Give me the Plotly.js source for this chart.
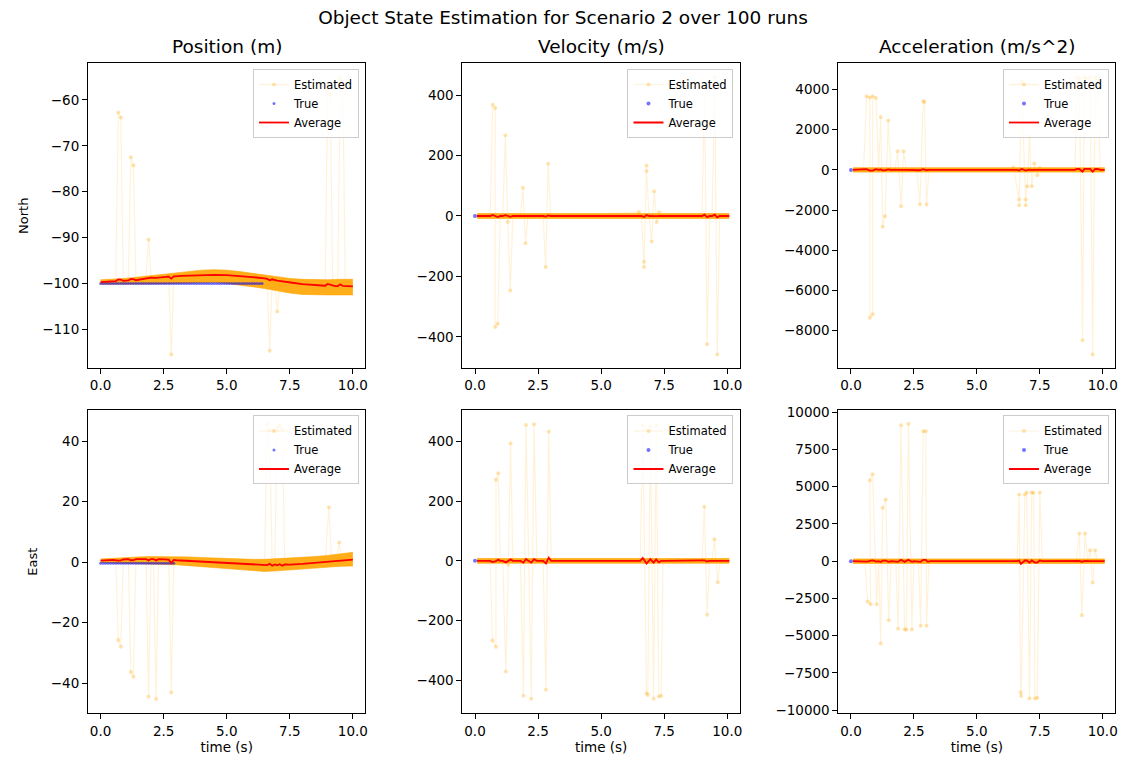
<!DOCTYPE html>
<html><head><meta charset="utf-8">
<script src="https://cdn.plot.ly/plotly-3.0.1.min.js"></script>
<style>html,body{margin:0;padding:0;background:#fff;}#chart{width:1126px;height:760px;}</style>
</head><body><div id="chart"></div>
<script>
// ---------------- DATA ----------------
const suptitle = 'Object State Estimation for Scenario 2 over 100 runs';
const colTitles = ['Position (m)', 'Velocity (m/s)', 'Acceleration (m/s^2)'];
const rowLabels = ['North', 'East'];
const xLabel = 'time (s)';
const seriesNames = ['Estimated', 'True', 'Average'];

const xTickVals = [0, 2.5, 5, 7.5, 10];
const xTickText = ['0.0', '2.5', '5.0', '7.5', '10.0'];

// North position
const spkNP_t = [0.6,0.7,0.8,0.9,1.1,1.2,1.3,1.4,1.8,1.9,2.0,2.7,2.8,2.9,6.6,6.7,6.8,6.9,7.0,7.1,8.9,9.0,9.1,9.2,9.4,9.5,9.6,9.7];
const spkNP   = [-99.4,-62.7,-63.8,-99.2,-99.1,-72.5,-74.2,-99.0,-98.8,-90.4,-98.7,-98.4,-115.5,-98.4,-99.0,-114.7,-99.6,-99.8,-106.1,-100.3,-100.5,-57.7,-58.8,-100.6,-100.6,-55.3,-56.5,-100.5];
const bandPos_t = [0,0.5,1,1.5,2,2.5,3,3.5,4,4.5,5,5.5,6,6.5,7,7.5,8,8.5,9,9.5,10];
const bandNP_hi = [-99.2,-99.1,-98.9,-98.6,-98.3,-97.9,-97.6,-97.3,-97.1,-97.0,-97.1,-97.4,-97.8,-98.1,-98.5,-98.9,-99.1,-99.2,-99.2,-99.1,-99.1];
const bandNP_lo = [-100.2,-100.2,-100.1,-100.1,-100.1,-100.1,-100.0,-99.9,-99.8,-99.8,-100.0,-100.3,-100.7,-101.1,-101.6,-102.1,-102.4,-102.5,-102.5,-102.5,-102.5];
const trueNP_t = [0,0.1,0.2,0.3,0.4,0.5,0.6,0.7,0.8,0.9,1,1.1,1.2,1.3,1.4,1.5,1.6,1.7,1.8,1.9,2,2.1,2.2,2.3,2.4,2.5,2.6,2.7,2.8,2.9,3,3.1,3.2,3.3,3.4,3.5,3.6,3.7,3.8,3.9,4,4.1,4.2,4.3,4.4,4.5,4.6,4.7,4.8,4.9,5,5.1,5.2,5.3,5.4,5.5,5.6,5.7,5.8,5.9,6,6.1,6.2,6.3,6.4];
const trueNP = [-100,-100,-100,-100,-100,-100,-100,-100,-100,-100,-100,-100,-100,
  -100,-100,-100,-100,-100,-100,-100,-100,-100,-100,-100,-100,-100,
  -100,-100,-100,-100,-100,-100,-100,-100,-100,-100,-100,-100,-100,
  -100,-100,-100,-100,-100,-100,-100,-100,-100,-100,-100,-100,-100,
  -100,-100,-100,-100,-100,-100,-100,-100,-100,-100,-100,-100,-100];
const avgNP_t = [0,0.3,0.6,0.7,0.8,0.9,1.1,1.2,1.3,1.4,1.6,1.9,2.0,2.2,2.7,2.8,2.9,3.2,3.6,4.0,4.5,5.0,5.5,6.0,6.5,6.6,6.7,6.8,7.0,7.2,7.6,8.0,8.5,8.9,9.0,9.1,9.2,9.3,9.4,9.5,9.6,9.8,10.0];
const avgNP   = [-99.7,-99.6,-99.5,-99.1,-99.15,-99.45,-99.35,-99.0,-99.05,-99.3,-99.15,-98.85,-98.75,-98.8,-98.5,-98.95,-98.45,-98.35,-98.25,-98.2,-98.15,-98.2,-98.35,-98.6,-98.9,-99.0,-99.3,-99.1,-99.4,-99.5,-99.85,-100.15,-100.4,-100.5,-100.1,-100.25,-100.55,-100.6,-100.6,-100.2,-100.55,-100.6,-100.65];

// North velocity
const spkNV_t = [0.6,0.7,0.8,0.8,0.9,1.0,1.1,1.2,1.3,1.4,1.5,1.8,1.9,2.0,2.1,2.7,2.8,2.9,3.0,6.5,6.6,6.7,6.7,6.8,6.8,6.9,7.0,7.1,7.2,7.3,7.4,9.0,9.1,9.2,9.3,9.4,9.5,9.6,9.7];
const spkNV   = [0,368,357,-367,-356,0,0,267,-20,-246,0,0,93,-90,0,0,-169,173,0,13,0,-151,-169,167,149,0,-84,82,-20,12,0,0,430,-424,0,0,459,-458,0];
const bandVA_t = [0.08,2.5,5,7.5,10.08];
const bandNV_hi = [8,8,8,8,8];
const bandNV_lo = [-8,-8,-8,-8,-8];
const trueNV_t = [0];
const trueNV = [0];
const avgNV_t = [0.08,0.6,0.7,0.8,0.9,1.0,1.1,1.2,1.3,1.4,1.5,1.8,1.9,2.0,2.1,2.7,2.8,2.9,3.0,6.5,6.6,6.7,6.8,6.9,7.0,7.1,7.2,7.3,9.0,9.1,9.2,9.3,9.4,9.5,9.6,9.7,10.08];
const avgNV   = [0,0,3.7,-0.1,-3.6,0,0,2.7,-0.2,-2.5,0,0,0.9,-0.9,0,0,-1.7,1.7,0,0.1,0,-3.2,3.2,0,-0.8,0.8,-0.2,0.1,0,4.3,-4.2,0,0,4.6,-4.6,0,0];

// North acceleration
const spkNA_t = [0.5,0.62,0.75,0.75,0.86,0.86,0.99,1.1,1.18,1.26,1.35,1.48,1.58,1.75,1.85,1.99,2.09,2.2,2.62,2.74,2.87,2.92,3.0,3.1,6.4,6.45,6.68,6.68,6.78,6.94,6.94,7.0,7.09,7.18,7.28,7.4,7.5,7.6,8.9,8.97,9.07,9.2,9.27,9.37,9.5,9.6,9.7,9.8,9.9];
const spkNA   = [0,3660,3600,-7360,-7175,3660,3580,0,2635,-2834,-2303,2452,0,0,928,-1806,928,0,0,-1707,3430,3380,-1723,0,0,116,-1475,-1757,4400,-1757,-1475,-812,1657,-812,315,-265,99,0,0,4600,4550,-8470,4600,4550,4600,-9180,4600,4550,0];
const bandNA_hi = [110,110,110,110,110];
const bandNA_lo = [-110,-110,-110,-110,-110];
const trueNA_t = [0];
const trueNA = [0];
const avgNA_t = [0.08,0.62,0.75,0.86,0.99,1.1,1.18,1.26,1.35,1.48,1.58,1.85,1.99,2.09,2.2,2.74,2.87,3.0,3.1,6.6,6.68,6.78,6.94,7.0,7.09,7.18,7.3,8.9,8.97,9.07,9.2,9.27,9.37,9.5,9.6,9.7,9.8,9.9,10.08];
const avgNA   = [0,37,-38,-35,36,0,26,-28,-23,25,0,9,-18,9,0,-17,34,-17,0,0,-32,44,-32,-8,17,-8,0,0,46,45,-85,46,45,46,-92,46,45,0,0];

// East position
const spkEP_t = [0.6,0.7,0.8,0.9,1.1,1.2,1.3,1.4,1.8,1.9,2.0,2.1,2.2,2.3,2.7,2.8,2.9,6.5,6.6,6.7,6.8,6.9,7.0,7.1,7.2,7.3,8.9,9.05,9.15,9.35,9.46,9.56];
const spkEP   = [0.6,-25.8,-28.0,0.8,0.9,-36.3,-37.9,0.9,1.0,-44.5,1.0,1.0,-45.3,0.9,0.7,-43.1,0.5,-1.0,45.6,43.6,-1.2,-1.0,44.5,45.2,44.0,-0.9,0.0,18.1,0.4,0.5,6.5,0.6];
const bandEP_hi = [1.0,1.3,1.5,1.7,1.8,1.8,1.8,1.7,1.5,1.3,1.1,1.0,0.9,0.9,1.1,1.3,1.5,1.8,2.2,2.7,3.2];
const bandEP_lo = [-0.2,-0.3,-0.4,-0.6,-0.7,-0.8,-0.9,-1.2,-1.5,-1.9,-2.2,-2.6,-2.9,-3.1,-2.9,-2.6,-2.2,-1.9,-1.6,-1.4,-1.3];
const trueEP_t = [0,0.1,0.2,0.3,0.4,0.5,0.6,0.7,0.8,0.9,1,1.1,1.2,1.3,1.4,1.5,1.6,1.7,1.8,1.9,2,2.1,2.2,2.3,2.4,2.5,2.6,2.7,2.8,2.9];
const trueEP = [-0.4,-0.4,-0.4,-0.4,-0.4,-0.4,-0.4,-0.4,-0.4,-0.4,-0.4,-0.4,-0.4,-0.4,-0.4,-0.4,-0.4,-0.4,-0.4,-0.4,-0.4,-0.4,-0.4,-0.4,-0.4,-0.4,-0.4,-0.4,-0.4,-0.4];
const avgEP_t = [0,0.5,0.7,0.8,0.9,1.1,1.2,1.3,1.4,1.8,1.9,2.0,2.1,2.2,2.3,2.7,2.8,2.9,3.0,3.5,4.0,4.5,5.0,5.5,6.0,6.5,6.6,6.7,6.8,6.9,7.0,7.1,7.2,7.3,7.4,7.5,8.0,8.5,9.0,9.5,10.0];
const avgEP   = [0.5,0.7,0.5,0.55,0.85,0.95,0.6,0.65,0.95,1.0,0.55,1.0,1.0,0.55,0.95,0.8,-0.3,0.7,0.6,0.35,0.1,-0.15,-0.4,-0.65,-0.9,-1.1,-1.0,-0.6,-1.2,-0.8,-1.1,-0.7,-1.2,-0.8,-0.9,-0.85,-0.6,-0.25,0.1,0.45,0.8];

// East velocity
const spkEV_t = [0.6,0.69,0.83,0.83,0.92,1.0,1.1,1.22,1.32,1.41,1.5,1.8,1.92,2.02,2.13,2.23,2.34,2.45,2.7,2.81,2.92,3.02,6.55,6.65,6.8,6.85,6.95,7.08,7.18,7.29,7.38,7.45,9.0,9.09,9.2,9.3,9.4,9.49,9.62,9.72];
const spkEV   = [0,-267,-288,272,294,0,0,-371,-13,395,0,0,-453,456,0,-463,459,0,0,-433,434,0,0,455,-444,-450,452,-463,455,-455,-453,0,0,182,-181,0,0,73,-72,0];
const bandEV_hi = [8,8,8,8,8];
const bandEV_lo = [-8,-8,-8,-8,-8];
const trueEV_t = [0];
const trueEV = [0];
const avgEV_t = [0.08,0.6,0.69,0.83,0.92,1.0,1.1,1.22,1.32,1.41,1.5,1.8,1.92,2.02,2.12,2.23,2.34,2.45,2.7,2.81,2.92,3.02,6.55,6.65,6.8,6.95,7.08,7.18,7.29,7.38,7.5,9.0,9.09,9.2,9.3,10.08];
const avgEV   = [0,0,-4,-1,4,0,0,-5,0,5,0,0,-6,6,0,-6,6,0,0,-9,11,0,0,10,-9,6,-6,5,-5,0,0,0,2,-2,0,0];

// East acceleration
const spkEA_t = [0.55,0.66,0.78,0.75,0.86,1.02,1.1,1.18,1.26,1.38,1.5,1.6,1.78,1.87,1.99,2.13,2.2,2.28,2.42,2.5,2.68,2.77,2.87,2.97,3.0,3.1,6.6,6.68,6.74,6.76,6.91,6.98,7.09,7.18,7.25,7.31,7.4,7.5,7.6,8.95,9.07,9.17,9.3,9.4,9.5,9.6,9.7,9.8];
const spkEA   = [0,-2710,-2890,5443,5846,-2890,0,-5533,3584,4144,-3965,0,0,-4547,9139,-4592,-4592,9229,-4592,0,0,-4346,8736,8736,-4346,0,0,4480,-8826,-9050,4480,4614,-9229,4614,4600,-9229,-9180,4614,0,0,1860,-3629,1860,0,739,-1434,739,0];
const bandEA_hi = [150,150,150,150,150];
const bandEA_lo = [-150,-150,-150,-150,-150];
const trueEA_t = [0];
const trueEA = [0];
const avgEA_t = [0.08,0.55,0.66,0.75,0.86,1.02,1.1,1.18,1.26,1.38,1.5,1.6,1.78,1.87,1.99,2.13,2.28,2.42,2.5,2.68,2.77,2.87,2.97,3.05,3.15,6.6,6.68,6.75,6.91,6.98,7.09,7.18,7.31,7.4,7.5,7.6,8.95,9.07,9.17,9.3,9.5,9.6,9.7,9.8,10.08];
const avgEA   = [0,0,-27,25,58,-29,0,-55,36,41,-40,0,0,-45,91,-46,93,-46,0,0,-43,87,87,-43,0,0,45,-178,45,46,-92,46,-92,-92,46,0,0,19,-36,19,7,-14,7,0,0];

// y tick labels
const yTicksNP = [-110,-100,-90,-80,-70,-60];
const yTextNP  = ['\u2212110','\u2212100','\u221290','\u221280','\u221270','\u221260'];
const yTicksV  = [-400,-200,0,200,400];
const yTextV   = ['\u2212400','\u2212200','0','200','400'];
const yTicksNA = [-8000,-6000,-4000,-2000,0,2000,4000];
const yTextNA  = ['\u22128000','\u22126000','\u22124000','\u22122000','0','2000','4000'];
const yTicksEP = [-40,-20,0,20,40];
const yTextEP  = ['\u221240','\u221220','0','20','40'];
const yTicksEA = [-10000,-7500,-5000,-2500,0,2500,5000,7500,10000];
const yTextEA  = ['\u221210000','\u22127500','\u22125000','\u22122500','0','2500','5000','7500','10000'];

// ---------------- LAYOUT / STYLE ----------------
const FONT = 'DejaVu Sans, sans-serif';
const xDom = [[0.07815,0.32460],[0.41066,0.65711],[0.74458,0.99050]];
const yDom = [[0.5154,0.9167],[0.0614,0.4605]];
const legX = [0.3188, 0.6514, 0.9849];
const legY = [0.9092, 0.4533];

const panels = [
  {row:0,col:0,st:spkNP_t,sv:spkNP,bt:bandPos_t,bh:bandNP_hi,bl:bandNP_lo,tt:trueNP_t,tv:trueNP,at:avgNP_t,av:avgNP,yr:[-118.5,-52.0],ytv:yTicksNP,ytt:yTextNP},
  {row:0,col:1,st:spkNV_t,sv:spkNV,bt:bandVA_t,bh:bandNV_hi,bl:bandNV_lo,tt:trueNV_t,tv:trueNV,at:avgNV_t,av:avgNV,yr:[-503.5,504.8],ytv:yTicksV,ytt:yTextV},
  {row:0,col:2,st:spkNA_t,sv:spkNA,bt:bandVA_t,bh:bandNA_hi,bl:bandNA_lo,tt:trueNA_t,tv:trueNA,at:avgNA_t,av:avgNA,yr:[-9869,5302],ytv:yTicksNA,ytt:yTextNA},
  {row:1,col:0,st:spkEP_t,sv:spkEP,bt:bandPos_t,bh:bandEP_hi,bl:bandEP_lo,tt:trueEP_t,tv:trueEP,at:avgEP_t,av:avgEP,yr:[-50.0,50.25],ytv:yTicksEP,ytt:yTextEP},
  {row:1,col:1,st:spkEV_t,sv:spkEV,bt:bandVA_t,bh:bandEV_hi,bl:bandEV_lo,tt:trueEV_t,tv:trueEV,at:avgEV_t,av:avgEV,yr:[-511.8,506.4],ytv:yTicksV,ytt:yTextV},
  {row:1,col:2,st:spkEA_t,sv:spkEA,bt:bandVA_t,bh:bandEA_hi,bl:bandEA_lo,tt:trueEA_t,tv:trueEA,at:avgEA_t,av:avgEA,yr:[-10222,10155],ytv:yTicksEA,ytt:yTextEA}
];

const traces = [];
const layout = {
  width:1126, height:760,
  margin:{l:0,r:0,t:0,b:0},
  paper_bgcolor:'#ffffff', plot_bgcolor:'#ffffff',
  showlegend:true,
  font:{family:FONT, color:'#000'},
  title:{text:suptitle, x:0.5, xanchor:'center', y:1-18/760, yanchor:'middle', font:{family:FONT,size:18.5,color:'#000'}},
  annotations:[]
};

panels.forEach((p,i) => {
  const s = i===0 ? '' : String(i+1);
  const xa = 'x'+s, ya = 'y'+s, lg = 'legend'+s;
  traces.push({type:'scatter', x:p.st, y:p.sv, xaxis:xa, yaxis:ya, legend:lg, name:seriesNames[0],
    mode:'lines+markers', line:{color:'rgba(255,165,0,0.15)', width:1.2},
    marker:{color:'rgba(255,165,0,0.3)', size:4}, hoverinfo:'skip'});
  traces.push({type:'scatter', x:p.bt, y:p.bh, xaxis:xa, yaxis:ya, legend:lg, showlegend:false,
    mode:'lines', line:{color:'rgba(255,165,0,0.6)', width:1}, hoverinfo:'skip'});
  traces.push({type:'scatter', x:p.bt, y:p.bl, xaxis:xa, yaxis:ya, legend:lg, showlegend:false,
    mode:'lines', fill:'tonexty', fillcolor:'rgba(255,165,0,0.9)', line:{color:'rgba(255,165,0,0.6)', width:1}, hoverinfo:'skip'});
  traces.push({type:'scatter', x:p.tt, y:p.tv, xaxis:xa, yaxis:ya, legend:lg, name:seriesNames[1],
    mode:'markers', marker:{color:'rgba(0,0,255,0.55)', size:p.tt.length>1?3:4}, hoverinfo:'skip'});
  traces.push({type:'scatter', x:p.at, y:p.av, xaxis:xa, yaxis:ya, legend:lg, name:seriesNames[2],
    mode:'lines', line:{color:'#ff0000', width:1.8}, hoverinfo:'skip'});

  const axCommon = {showline:true, mirror:true, linecolor:'#000', linewidth:1, showgrid:false, zeroline:false,
    ticks:'outside', ticklen:5, tickwidth:1, tickcolor:'#000', fixedrange:true,
    tickfont:{family:FONT, size:13.5, color:'#000'}};
  layout['xaxis'+s] = Object.assign({}, axCommon, {domain:xDom[p.col], anchor:ya, range:[-0.5,10.5],
    tickmode:'array', tickvals:xTickVals, ticktext:xTickText},
    p.row===1 ? {title:{text:xLabel, font:{family:FONT,size:13.5,color:'#000'}, standoff:4}} : {});
  layout['yaxis'+s] = Object.assign({}, axCommon, {domain:yDom[p.row], anchor:xa, range:p.yr,
    tickmode:'array', tickvals:p.ytv, ticktext:p.ytt},
    p.col===0 ? {title:{text:rowLabels[p.row], font:{family:FONT,size:13,color:'#000'}, standoff:10}} : {});
  layout[lg] = {x:legX[p.col], y:legY[p.row], xanchor:'right', yanchor:'top', traceorder:'normal',
    bgcolor:'rgba(255,255,255,0.8)', bordercolor:'#cccccc', borderwidth:1,
    font:{family:FONT, size:11.5, color:'#000'}, itemwidth:30, tracegroupgap:0};
  if (p.row===0) {
    layout.annotations.push({xref:'paper', yref:'paper', x:(xDom[p.col][0]+xDom[p.col][1])/2, y:yDom[0][1],
      xanchor:'center', yanchor:'bottom', yshift:4, showarrow:false, text:colTitles[p.col],
      font:{family:FONT, size:18.5, color:'#000'}});
  }
});

Plotly.newPlot('chart', traces, layout, {staticPlot:true, displayModeBar:false});
</script>
</body></html>
